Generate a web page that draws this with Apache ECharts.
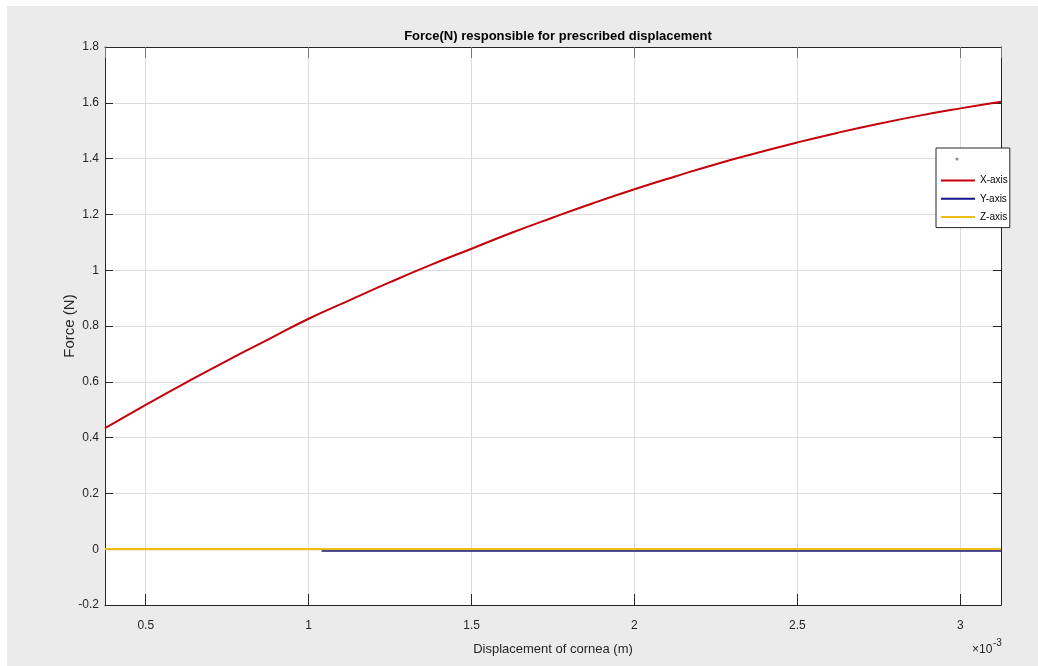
<!DOCTYPE html>
<html><head><meta charset="utf-8">
<script src="https://cdn.jsdelivr.net/npm/echarts@6/dist/echarts.min.js"></script>
<style>
html,body{margin:0;padding:0;background:#fff;width:1038px;height:666px;overflow:hidden}
#c{position:absolute;left:7px;top:6px;width:1031px;height:660px}
</style></head>
<body><div id="c"></div>
<script>
// displacement in units of 1e-3 m
const displacement = [0.375,0.5,0.625,0.75,0.875,1.0,1.125,1.25,1.375,1.5,1.625,1.75,1.875,2.0,2.125,2.25,2.375,2.5,2.625,2.75,2.875,3.0,3.125];
const forceX = [0.434,0.517,0.598,0.676,0.751,0.826,0.892,0.957,1.019,1.077,1.135,1.189,1.241,1.290,1.336,1.380,1.420,1.458,1.493,1.525,1.554,1.580,1.604];
const dispY = [1.04, 3.125];
const forceY = [-0.006, -0.006];
const dispZ = [0.375, 3.125];
const forceZ = [0, 0];
const xRange = [0.375, 3.125];
const yRange = [-0.2, 1.8];
const yStep = 0.2;
const seriesNames = ['X-axis','Y-axis','Z-axis'];
const titleText = 'Force(N) responsible for prescribed displacement';
const xName = 'Displacement of cornea (m)';
const yName = 'Force (N)';

const pairs = (xs, ys) => xs.map((x, i) => [x, ys[i]]);
const FONT = 'Liberation Sans, Arial, Helvetica, sans-serif';
const DARK = '#262626';
const GRID = '#dcdcdc';

const chart = echarts.init(document.getElementById('c'), null, {renderer:'canvas'});
const baseX = {type:'value', min:xRange[0], max:xRange[1], splitNumber:5};
const baseY = {type:'value', min:yRange[0], max:yRange[1], interval:yStep};
chart.setOption({
  animation:false,
  backgroundColor:'#ebebeb',
  title:{text:titleText, left:'546', top:19, textAlign:'center',
    textStyle:{fontFamily:FONT, fontSize:13, fontWeight:'bold', color:'#000'}},
  grid:{left:98, top:41, right:37, bottom:61, show:true, backgroundColor:'#fff', borderWidth:0},
  legend:{data:seriesNames, orient:'vertical', left:929, top:142, padding:[27,2,5,4],
    itemWidth:34, itemHeight:14, itemGap:7, backgroundColor:'#fff', borderColor:DARK, borderWidth:1,
    itemStyle:{opacity:0},
    textStyle:{fontFamily:FONT, fontSize:10, color:'#000'}},
  xAxis:[
    Object.assign({}, baseX, {position:'bottom', name:xName, nameLocation:'middle', nameGap:38,
      nameMoveOverlap:false,
      nameTextStyle:{fontFamily:FONT, fontSize:13, color:DARK},
      axisLine:{show:true, onZero:false, lineStyle:{color:DARK, width:1}},
      axisTick:{show:true, inside:true, length:11, lineStyle:{color:DARK}},
      axisLabel:{showMinLabel:false, showMaxLabel:false, margin:15, fontFamily:FONT, fontSize:12, color:DARK},
      splitLine:{show:true, lineStyle:{color:GRID, width:1}}}),
    Object.assign({}, baseX, {position:'top',
      axisLine:{show:true, onZero:false, lineStyle:{color:DARK, width:1}},
      axisTick:{show:true, inside:true, length:11, lineStyle:{color:'#777'}},
      axisLabel:{show:false}, splitLine:{show:false}})
  ],
  yAxis:[
    Object.assign({}, baseY, {position:'left', name:yName, nameLocation:'middle', nameGap:28, nameRotate:90,
      nameMoveOverlap:false,
      nameTextStyle:{fontFamily:FONT, fontSize:15, color:DARK},
      axisLine:{show:true, onZero:false, lineStyle:{color:DARK, width:1}},
      axisTick:{show:true, inside:true, length:8, lineStyle:{color:DARK}},
      axisLabel:{margin:6, fontFamily:FONT, fontSize:12, color:DARK},
      splitLine:{show:true, lineStyle:{color:GRID, width:1}}}),
    Object.assign({}, baseY, {position:'right',
      axisLine:{show:true, onZero:false, lineStyle:{color:DARK, width:1}},
      axisTick:{show:true, inside:true, length:8, lineStyle:{color:DARK}},
      axisLabel:{show:false}, splitLine:{show:false}})
  ],
  series:[
    {name:seriesNames[0], type:'line', data:pairs(displacement, forceX), symbol:'none', smooth:true,
      lineStyle:{color:'#c4000b', width:2}, itemStyle:{color:'#c4000b'}, z:3},
    {name:seriesNames[1], type:'line', data:pairs(dispY, forceY), symbol:'none',
      lineStyle:{color:'#16168f', width:2}, itemStyle:{color:'#16168f'}, z:4},
    {name:seriesNames[2], type:'line', data:pairs(dispZ, forceZ), symbol:'none',
      lineStyle:{color:'#efbd18', width:2.2}, itemStyle:{color:'#efbd18'}, z:5}
  ],
  graphic:[
    {type:'circle', shape:{cx:950, cy:153, r:1.6}, style:{fill:'#8a8a8a'}, z:100},
    {type:'text', left:965, top:638, style:{text:'×10', fontFamily:FONT, fontSize:12, fill:DARK}},
    {type:'text', left:986, top:632, style:{text:'-3', fontFamily:FONT, fontSize:10, fill:DARK}}
  ]
});
</script>
</body></html>
